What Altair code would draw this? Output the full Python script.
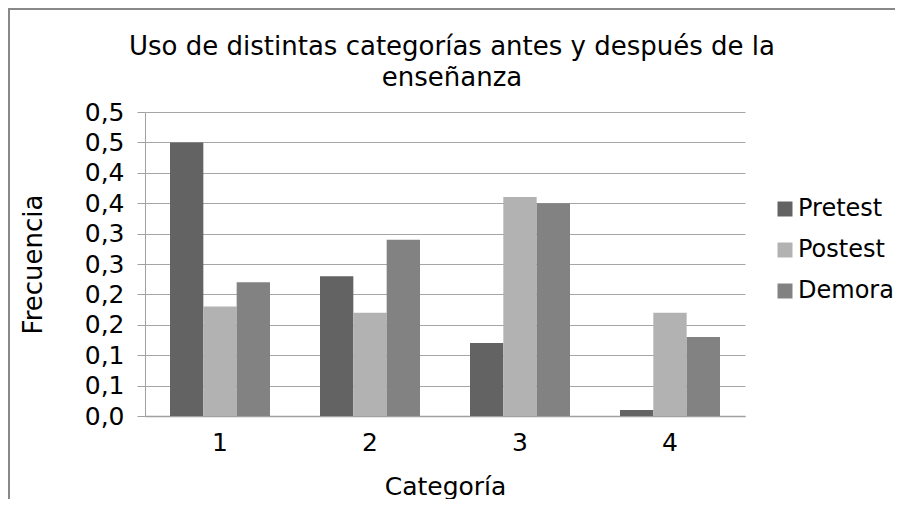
import altair as alt
import pandas as pd

categories = ["1", "2", "3", "4"]
series = ["Pretest", "Postest", "Demora"]
pretest = [0.45, 0.23, 0.12, 0.01]
postest = [0.18, 0.17, 0.36, 0.17]
demora = [0.22, 0.29, 0.35, 0.13]
colors = ["#636363", "#b2b2b2", "#828282"]
y_ticks = [0.0, 0.05, 0.10, 0.15, 0.20, 0.25, 0.30, 0.35, 0.40, 0.45, 0.50]
y_tick_labels = ["0,0", "0,1", "0,1", "0,2", "0,2", "0,3", "0,3", "0,4", "0,4", "0,5", "0,5"]
title_lines = ["Uso de distintas categorías antes y después de la", "enseñanza"]

rows = []
for name, vals in zip(series, [pretest, postest, demora]):
    for c, v in zip(categories, vals):
        rows.append({"Categoría": c, "Serie": name, "Frecuencia": v})
df = pd.DataFrame(rows)

FONT = "DejaVu Sans"
W, H = 600, 304
PL, PT = 137, 104
PR, PB = 887 - PL - W, 491 - PT - H

label_expr = "[" + ",".join('"%s"' % s for s in y_tick_labels) + "][round(datum.value*20)]"

bars = alt.Chart(df).mark_bar(stroke=None).encode(
    x=alt.X("Categoría:N", sort=categories,
            scale=alt.Scale(paddingInner=1/3, paddingOuter=1/6),
            axis=alt.Axis(title="Categoría", labelAngle=0, ticks=False, grid=False,
                          domainColor="#a0a0a0", domainWidth=1.5,
                          labelFontSize=25, labelFont=FONT, labelColor="#000",
                          labelPadding=14, labelBaseline="top",
                          titleFontSize=25, titleFont=FONT, titleColor="#000",
                          titleFontWeight="normal", titleY=78, titleBaseline="alphabetic")),
    xOffset=alt.XOffset("Serie:N", sort=series, scale=alt.Scale(paddingInner=0, paddingOuter=0)),
    y=alt.Y("Frecuencia:Q", scale=alt.Scale(domain=[0, 0.5], nice=False),
            axis=alt.Axis(title="Frecuencia", values=y_ticks, labelExpr=label_expr,
                          grid=True, gridColor="#a6a6a6", gridWidth=1,
                          domainColor="#a0a0a0", tickColor="#a0a0a0", tickSize=8,
                          labelFontSize=25, labelFont=FONT, labelColor="#000",
                          labelPadding=13, labelBaseline="middle",
                          titleFontSize=26, titleFont=FONT, titleColor="#000",
                          titleFontWeight="normal", titleAngle=270,
                          titleX=-112, titleY=H / 2, titleAlign="center",
                          titleBaseline="middle")),
    color=alt.Color("Serie:N", sort=series,
                    scale=alt.Scale(domain=series, range=colors),
                    legend=alt.Legend(title=None, orient="none", legendX=628, legendY=85,
                                      symbolType="square", symbolSize=225,
                                      symbolStrokeWidth=0, labelFontSize=24,
                                      labelFont=FONT, labelColor="#000",
                                      rowPadding=17, labelOffset=1, padding=0)),
)

border = alt.Chart(alt.Data(values=[{}])).mark_rect(
    fill=None, stroke="#888888", strokeWidth=2
).encode(
    x=alt.value(-PL + 1), y=alt.value(-PT + 1),
    x2=alt.value(W + PR + 20), y2=alt.value(H + PB + 20),
)

chart = alt.layer(border, bars).properties(
    width=W, height=H,
    autosize=alt.AutoSizeParams(type="none"),
    padding={"left": PL, "top": PT, "right": PR, "bottom": PB},
    title=alt.TitleParams(text=title_lines, fontSize=26, font=FONT, fontWeight="normal",
                          color="#000", anchor="middle", frame="group", dx=7, dy=130,
                          offset=26, lineHeight=31, baseline="alphabetic"),
).configure_view(stroke=None)

chart.save("out.html", embed_options={"renderer": "svg", "actions": False})
